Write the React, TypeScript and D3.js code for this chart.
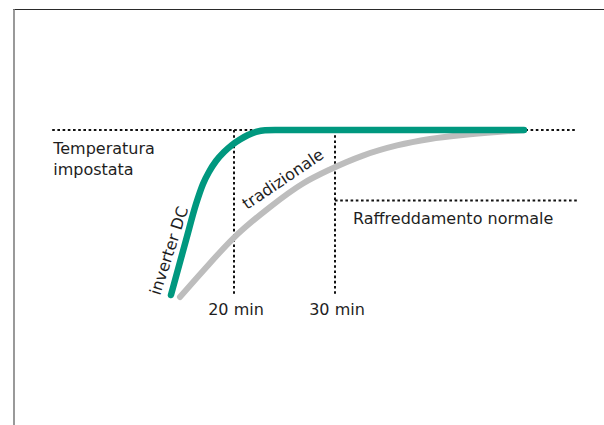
import React from "react";
import * as d3 from "d3";

// ---- data ----
const markerMinutes = [20, 30];
const markerLabels = ["20 min", "30 min"];

const inverterMinutes = [13.76, 15.25, 16.24, 16.93, 17.52, 18.22, 19.01, 19.8, 20.59, 21.39, 22.18, 23.07, 24.06, 48.71];
const inverterLevel = [0.6, 33.7, 55.4, 67.5, 74.7, 81.3, 86.7, 91.0, 94.3, 97.0, 98.9, 99.9, 100, 100];

const traditionalMinutes = [14.65, 16.93, 19.9, 23.56, 26.83, 29.5, 32.77, 36.14, 39.41, 42.67, 46.04, 48.71];
const traditionalLevel = [-0.6, 15.1, 34.6, 53.6, 67.8, 76.2, 84.6, 90.7, 94.6, 97.0, 98.8, 99.9];

const setpointLevel = 100;
const normalLevel = 57.5;
const guideSpan = [2, 54];
const markerBottom = 1;

const seriesNames = ["inverter DC", "tradizionale"];
const setpointLabel = ["Temperatura", "impostata"];
const normalLabel = "Raffreddamento normale";

// ---- layout ----
const W = 604;
const H = 425;
const GREEN = "#00987f";
const GRAY = "#bdbdbd";
const TEXT = "#1e1e1e";
const FONT = "'DejaVu Sans', sans-serif";

export default function App() {
  const x = d3.scaleLinear().domain([0, 60]).range([32, 638]);
  const y = d3.scaleLinear().domain([0, 100]).range([296, 130]);

  const line = d3
    .line<[number, number]>()
    .x((d) => x(d[0]))
    .y((d) => y(d[1]))
    .curve(d3.curveMonotoneX);

  const inv = inverterMinutes.map((t, i) => [t, inverterLevel[i]] as [number, number]);
  const trad = traditionalMinutes.map((t, i) => [t, traditionalLevel[i]] as [number, number]);

  const dot = { stroke: "#111", strokeWidth: 2, strokeDasharray: "2.6 2.6", fill: "none" } as const;

  return (
    <svg
      width={W}
      height={H}
      style={{ position: "absolute", left: 0, top: 0, background: "#fff" }}
      fontFamily={FONT}
    >
      <rect x={0} y={0} width={W} height={H} fill="#fff" />
      {/* frame */}
      <line x1={13} x2={W} y1={9.5} y2={9.5} stroke="#2a2a2a" strokeWidth={1.2} />
      <line x1={14} x2={14} y1={9} y2={H} stroke="#808080" strokeWidth={1.6} />

      {/* setpoint guide */}
      <line x1={x(guideSpan[0])} x2={x(guideSpan[1])} y1={y(setpointLevel)} y2={y(setpointLevel)} {...dot} />
      {/* normal cooling guide */}
      <line x1={x(markerMinutes[1])} x2={x(guideSpan[1])} y1={y(normalLevel)} y2={y(normalLevel)} {...dot} />
      {/* minute markers */}
      {markerMinutes.map((m, i) => (
        <g key={m}>
          <line x1={x(m)} x2={x(m)} y1={y(setpointLevel)} y2={y(markerBottom)} {...dot} />
          <text x={x(m) + 2} y={315} textAnchor="middle" fontSize={16} fill={TEXT}>
            {markerLabels[i]}
          </text>
        </g>
      ))}

      {/* curves */}
      <path d={line(trad) || ""} fill="none" stroke={GRAY} strokeWidth={6} strokeLinecap="round" strokeLinejoin="round" />
      <path d={line(inv) || ""} fill="none" stroke={GREEN} strokeWidth={6.5} strokeLinecap="round" strokeLinejoin="round" />

      {/* labels */}
      <text x={x(guideSpan[0]) + 1} y={153.5} fontSize={16} fill={TEXT}>
        {setpointLabel[0]}
      </text>
      <text x={x(guideSpan[0]) + 1} y={175} fontSize={16} fill={TEXT}>
        {setpointLabel[1]}
      </text>
      <text x={353} y={224} fontSize={16} fill={TEXT}>
        {normalLabel}
      </text>
      <text transform="translate(160,296) rotate(-72)" fontSize={16} fill={TEXT}>
        {seriesNames[0]}
      </text>
      <text transform="translate(247,210) rotate(-34)" fontSize={16} fill={TEXT}>
        {seriesNames[1]}
      </text>
    </svg>
  );
}
